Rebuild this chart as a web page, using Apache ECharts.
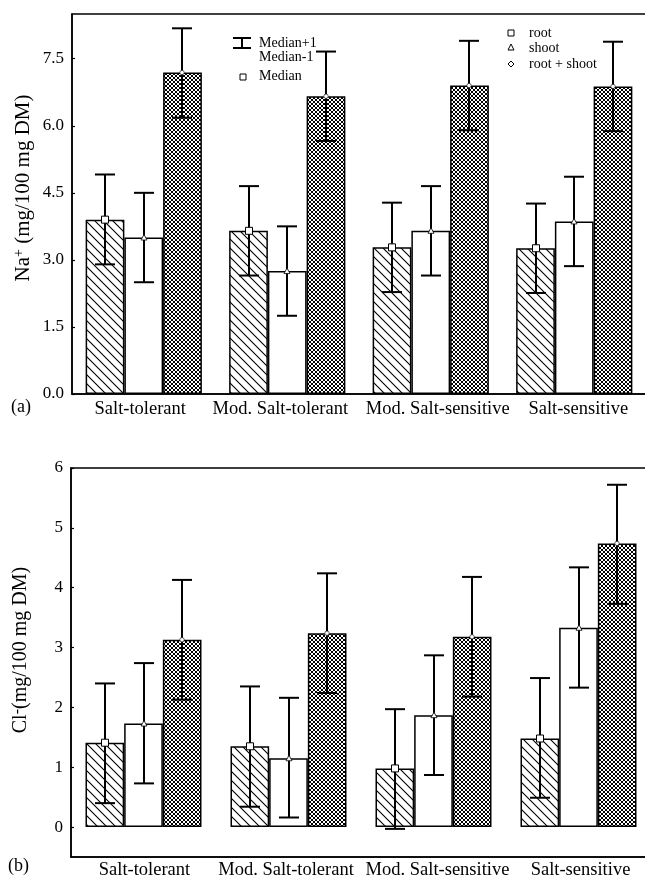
<!DOCTYPE html>
<html>
<head>
<meta charset="utf-8">
<script src="https://cdn.jsdelivr.net/npm/echarts@6/dist/echarts.min.js"></script>
<style>
  html, body { margin: 0; padding: 0; background: #fff; }
  #chart { width: 645px; height: 878px; }
</style>
</head>
<body>
<div id="chart"></div>
<script>
// 分类与数据（中位数及 ±1 误差范围，按图读取）
const CATEGORIES = ["Salt-tolerant", "Mod. Salt-tolerant", "Mod. Salt-sensitive", "Salt-sensitive"];
const SERIES_NAMES = ["root", "shoot", "root + shoot"];

// (a) Na+
const NA_ROOT = [3.9, 3.65, 3.28, 3.26];
const NA_SHOOT = [3.5, 2.75, 3.65, 3.86];
const NA_TOTAL = [7.19, 6.66, 6.9, 6.88];
const NA_ROOT_HI = [4.91, 4.65, 4.28, 4.26];
const NA_ROOT_LO = [2.9, 2.65, 2.28, 2.26];
const NA_SHOOT_HI = [4.5, 3.75, 4.65, 4.86];
const NA_SHOOT_LO = [2.5, 1.75, 2.65, 2.86];
const NA_TOTAL_HI = [8.18, 7.66, 7.9, 7.88];
const NA_TOTAL_LO = [6.18, 5.66, 5.9, 5.88];

// (b) Cl-
const CL_ROOT = [1.41, 1.35, 0.98, 1.48];
const CL_SHOOT = [1.73, 1.15, 1.87, 3.33];
const CL_TOTAL = [3.13, 3.24, 3.18, 4.74];
const CL_ROOT_HI = [2.4, 2.35, 1.97, 2.49];
const CL_ROOT_LO = [0.4, 0.34, -0.03, 0.49];
const CL_SHOOT_HI = [2.74, 2.16, 2.87, 4.34];
const CL_SHOOT_LO = [0.73, 0.16, 0.87, 2.33];
const CL_TOTAL_HI = [4.13, 4.24, 4.18, 5.72];
const CL_TOTAL_LO = [2.13, 2.24, 2.18, 3.73];

const FONT = "Liberation Serif";
const INK = "#000";

// 分类标签水平微调（像素），原图标签并非严格居中
const LABEL_SHIFT = [[-3.5, -7, 7, 4], [1, -2.5, 4, 2]];

// 斜线填充（root）
function hatchPattern() {
  const c = document.createElement("canvas");
  c.width = 9; c.height = 9;
  const g = c.getContext("2d");
  g.fillStyle = "#fff"; g.fillRect(0, 0, 9, 9);
  g.strokeStyle = "#000"; g.lineWidth = 1.1;
  g.beginPath();
  g.moveTo(-1, -1); g.lineTo(10, 10);
  g.moveTo(-1, 8); g.lineTo(1, 10);
  g.moveTo(8, -1); g.lineTo(10, 1);
  g.stroke();
  return c;
}

// 交叉网格填充（root + shoot）
function crossPattern() {
  const c = document.createElement("canvas");
  c.width = 4; c.height = 4;
  const g = c.getContext("2d");
  g.fillStyle = "#fff"; g.fillRect(0, 0, 4, 4);
  g.fillStyle = "#000";
  [[0, 0], [1, 1], [2, 2], [3, 3], [3, 0], [2, 1], [1, 2], [0, 3]].forEach(function (p) {
    g.fillRect(p[0], p[1], 1, 1);
  });
  return c;
}

const FILLS = [
  { image: hatchPattern(), repeat: "repeat" },
  "#fff",
  { image: crossPattern(), repeat: "repeat" },
];

function barSeries(name, k, data, axis) {
  return {
    name: name,
    type: "bar",
    xAxisIndex: axis, yAxisIndex: axis,
    data: data,
    barGap: "0%",
    barCategoryGap: axis === 0 ? "19%" : "20%",
    itemStyle: { color: FILLS[k], borderColor: INK, borderWidth: 1.5 },
    silent: true,
    z: 2,
  };
}

// 误差线 + 中位数标记
function errSeries(k, med, lo, hi, axis, gap) {
  const data = med.map(function (v, i) { return [i, v, lo[i], hi[i]]; });
  return {
    type: "custom",
    xAxisIndex: axis, yAxisIndex: axis,
    data: data,
    encode: { x: 0, y: [1, 2, 3] },
    zlevel: 1,
    z: 5,
    silent: true,
    renderItem: function (params, api) {
      const catW = api.size([1, 0])[0];
      const barW = catW * (1 - gap) / 3;
      const base = api.coord([api.value(0), api.value(1)]);
      const x = Math.round(base[0] + (k - 1) * barW);
      const yMed = base[1];
      const yLo = api.coord([api.value(0), api.value(2)])[1];
      const yHi = api.coord([api.value(0), api.value(3)])[1];
      const cap = 10;
      const ls = { stroke: INK, lineWidth: 2 };
      const kids = [
        { type: "line", shape: { x1: x, y1: yHi, x2: x, y2: yLo }, style: ls },
        { type: "line", shape: { x1: x - cap, y1: yHi, x2: x + cap, y2: yHi }, style: ls },
        { type: "line", shape: { x1: x - cap, y1: yLo, x2: x + cap, y2: yLo }, style: ls },
      ];
      const ms = { fill: "#fff", stroke: INK, lineWidth: 1 };
      if (k === 0) {
        kids.push({ type: "rect", shape: { x: x - 3.5, y: yMed - 3.5, width: 7, height: 7 }, style: ms });
      } else if (k === 1) {
        kids.push({ type: "polygon", shape: { points: [[x, yMed - 3], [x - 3, yMed + 2.5], [x + 3, yMed + 2.5]] }, style: { fill: "#fff", stroke: INK, lineWidth: 0.8 } });
      } else {
        kids.push({ type: "circle", shape: { cx: x, cy: yMed, r: 2.2 }, style: { fill: "#fff", stroke: INK, lineWidth: 0.6 } });
      }
      return { type: "group", children: kids };
    },
  };
}

const chart = echarts.init(document.getElementById("chart"), null, { renderer: "canvas" });

const axisText = { color: INK, fontFamily: FONT };

function xAxisCfg(idx, margin) {
  const rich = {};
  LABEL_SHIFT[idx].forEach(function (s, i) {
    rich["c" + i] = {
      fontFamily: FONT, fontSize: 18.5, color: INK,
      padding: s >= 0 ? [0, 0, 0, 2 * s] : [0, -2 * s, 0, 0],
    };
  });
  return {
    type: "category", gridIndex: idx, data: CATEGORIES,
    axisLine: { onZero: false, lineStyle: { color: INK, width: 1.5 } },
    axisTick: { inside: true, length: 4, lineStyle: { color: INK, width: 1.2 } },
    axisLabel: Object.assign({
      fontSize: 18.5, margin: margin, interval: 0, hideOverlap: false, rich: rich,
      formatter: function (v, i) { return "{c" + i + "|" + v + "}"; },
    }, axisText),
    splitLine: { show: false },
  };
}

function yTitle(x, y, rich) {
  return {
    type: "text", x: x, y: y, rotation: Math.PI / 2,
    style: {
      text: rich.text, align: "center", verticalAlign: "middle",
      rich: rich.styles,
    },
  };
}

const option = {
  animation: false,
  backgroundColor: "#fff",
  grid: [
    { left: 72, right: -1, top: 14, bottom: 484, outerBoundsMode: "none", show: true, borderColor: INK, borderWidth: 1.5, backgroundColor: "transparent" },
    { left: 71, right: -6, top: 468, bottom: 21, outerBoundsMode: "none", show: true, borderColor: INK, borderWidth: 1.5, backgroundColor: "transparent" },
  ],
  xAxis: [xAxisCfg(0, 6), xAxisCfg(1, 4)],
  yAxis: [
    {
      type: "value", gridIndex: 0, min: 0, max: 8.5, interval: 1.5,
      axisLine: { show: true, lineStyle: { color: INK, width: 1.5 } },
      axisTick: { show: true, inside: true, length: 3, lineStyle: { color: INK, width: 1.2 } },
      axisLabel: Object.assign({ fontSize: 17, margin: 8, showMaxLabel: false,
        formatter: function (v) { return v.toFixed(1); } }, axisText),
      splitLine: { show: false },
    },
    {
      type: "value", gridIndex: 1, min: -0.5, max: 6, splitNumber: 6,
      axisLine: { show: true, lineStyle: { color: INK, width: 1.5 } },
      axisTick: { show: true, inside: true, length: 3, lineStyle: { color: INK, width: 1.2 } },
      axisLabel: Object.assign({ fontSize: 17, margin: 8, showMinLabel: false,
        formatter: function (v) { return Number.isInteger(v) ? String(v) : ""; } }, axisText),
      splitLine: { show: false },
    },
  ],
  series: [
    barSeries(SERIES_NAMES[0], 0, NA_ROOT, 0),
    barSeries(SERIES_NAMES[1], 1, NA_SHOOT, 0),
    barSeries(SERIES_NAMES[2], 2, NA_TOTAL, 0),
    errSeries(0, NA_ROOT, NA_ROOT_LO, NA_ROOT_HI, 0, 0.19),
    errSeries(1, NA_SHOOT, NA_SHOOT_LO, NA_SHOOT_HI, 0, 0.19),
    errSeries(2, NA_TOTAL, NA_TOTAL_LO, NA_TOTAL_HI, 0, 0.19),
    barSeries(SERIES_NAMES[0], 0, CL_ROOT, 1),
    barSeries(SERIES_NAMES[1], 1, CL_SHOOT, 1),
    barSeries(SERIES_NAMES[2], 2, CL_TOTAL, 1),
    errSeries(0, CL_ROOT, CL_ROOT_LO, CL_ROOT_HI, 1, 0.20),
    errSeries(1, CL_SHOOT, CL_SHOOT_LO, CL_SHOOT_HI, 1, 0.20),
    errSeries(2, CL_TOTAL, CL_TOTAL_LO, CL_TOTAL_HI, 1, 0.20),
  ],
  graphic: [
    // 纵轴标题
    yTitle(23, 188, {
      text: "{a|Na}{s|+}{a| (mg/100 mg DM)}",
      styles: {
        a: { fontFamily: FONT, fontSize: 21, fill: INK },
        s: { fontFamily: FONT, fontSize: 14, fill: INK, verticalAlign: "top", padding: [0, 0, 8, 0] },
      },
    }),
    yTitle(21, 650, {
      text: "{a|Cl}{s|-}{a|(mg/100 mg DM)}",
      styles: {
        a: { fontFamily: FONT, fontSize: 20, fill: INK },
        s: { fontFamily: FONT, fontSize: 16, fill: INK, verticalAlign: "top", padding: [0, 0, 6, 0] },
      },
    }),
    // 面板标签
    { type: "text", left: 11, top: 398, style: { text: "(a)", font: "18px " + FONT, fill: INK } },
    { type: "text", left: 8, top: 857, style: { text: "(b)", font: "18px " + FONT, fill: INK } },
    // 误差线图例
    { type: "line", shape: { x1: 233, y1: 38, x2: 251, y2: 38 }, style: { stroke: INK, lineWidth: 2 } },
    { type: "line", shape: { x1: 242, y1: 38, x2: 242, y2: 48 }, style: { stroke: INK, lineWidth: 2 } },
    { type: "line", shape: { x1: 233, y1: 48, x2: 251, y2: 48 }, style: { stroke: INK, lineWidth: 2 } },
    { type: "text", left: 259, top: 36, style: { text: "Median+1", font: "14px " + FONT, fill: INK } },
    { type: "text", left: 259, top: 50, style: { text: "Median-1", font: "14px " + FONT, fill: INK } },
    { type: "rect", shape: { x: 240, y: 74, width: 6, height: 6 }, style: { fill: "#fff", stroke: INK, lineWidth: 1 } },
    { type: "text", left: 259, top: 69, style: { text: "Median", font: "14px " + FONT, fill: INK } },
    // 系列图例
    { type: "rect", shape: { x: 508, y: 30, width: 6, height: 6 }, style: { fill: "#fff", stroke: INK, lineWidth: 1 } },
    { type: "text", left: 529, top: 26, style: { text: SERIES_NAMES[0], font: "14px " + FONT, fill: INK } },
    { type: "polygon", shape: { points: [[511, 44], [508, 50], [514, 50]] }, style: { fill: "#fff", stroke: INK, lineWidth: 1 } },
    { type: "text", left: 529, top: 41, style: { text: SERIES_NAMES[1], font: "14px " + FONT, fill: INK } },
    { type: "polygon", shape: { points: [[511, 61], [514, 64], [511, 67], [508, 64]] }, style: { fill: "#fff", stroke: INK, lineWidth: 1 } },
    { type: "text", left: 529, top: 57, style: { text: SERIES_NAMES[2], font: "14px " + FONT, fill: INK } },
  ],
};

chart.setOption(option);
</script>
</body>
</html>
